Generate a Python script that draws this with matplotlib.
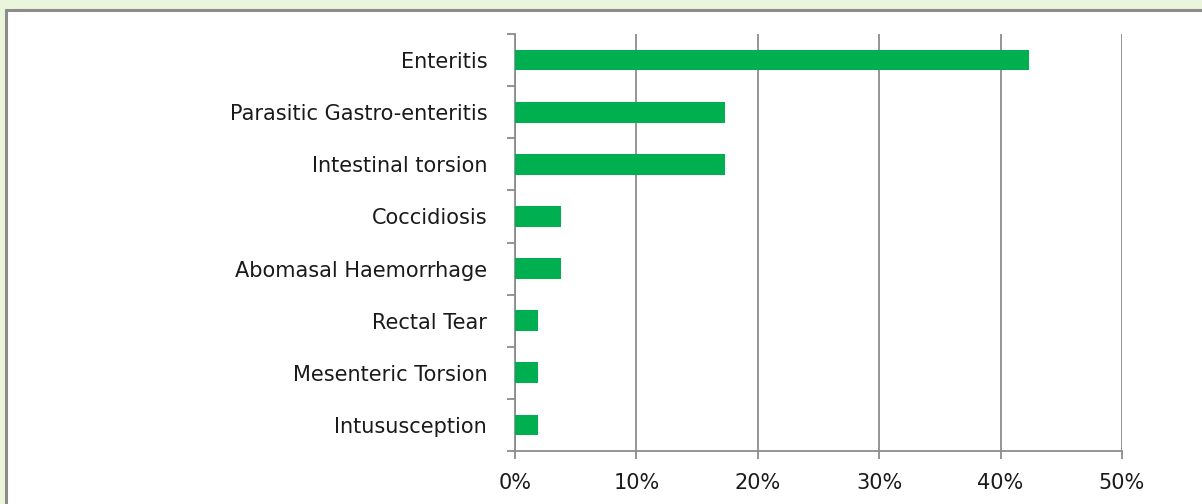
import matplotlib.pyplot as plt
from matplotlib.patches import Rectangle
from matplotlib.ticker import FuncFormatter

causes = ["Enteritis", "Parasitic Gastro-enteritis", "Intestinal torsion", "Coccidiosis",
          "Abomasal Haemorrhage", "Rectal Tear", "Mesenteric Torsion", "Intususception"]
percent = [42.3, 17.3, 17.3, 3.8, 3.8, 1.9, 1.9, 1.9]

fig = plt.figure(figsize=(12.02, 5.04), dpi=100)
fig.patch.set_facecolor("#EAF5DC")

# white panel with grey border
W, H = 1202, 504
panel = Rectangle((6 / W, -0.05), 1.1, 1 - 10 / H + 0.05, transform=fig.transFigure,
                  facecolor="white", edgecolor="#8C8C8C", linewidth=2.2, zorder=-5)
fig.patches.append(panel)

ax = fig.add_axes([515 / W, 1 - 451 / H, (1122 - 515) / W, (451 - 34) / H])
ax.set_facecolor("none")
ax.set_zorder(2)

y = list(range(len(causes)))
ax.barh(y, percent, height=0.4, color="#00B050", zorder=3)

ax.set_xlim(0, 50)
ax.set_ylim(len(causes) - 0.5, -0.5)
ax.set_xticks([0, 10, 20, 30, 40, 50])
ax.xaxis.set_major_formatter(FuncFormatter(lambda v, p: f"{v:.0f}%"))

ax.set_yticks(y)
ax.set_yticklabels(causes)
ax.set_yticks([i - 0.5 for i in range(len(causes) + 1)], minor=True)
ax.tick_params(axis="y", which="major", length=0, pad=20, labelsize=15, labelcolor="#1a1a1a")
ax.tick_params(axis="y", which="minor", length=6, width=1.3, color="#8C8C8C")
ax.tick_params(axis="x", length=6, width=1.3, color="#8C8C8C", pad=10, labelsize=15, labelcolor="#1a1a1a")

ax.grid(axis="x", color="#8C8C8C", linewidth=1.3, zorder=0)
for s in ["top", "right"]:
    ax.spines[s].set_visible(False)
for s in ["left", "bottom"]:
    ax.spines[s].set_color("#8C8C8C")
    ax.spines[s].set_linewidth(1.3)

fig.savefig("out.png", dpi=100, facecolor=fig.get_facecolor())
